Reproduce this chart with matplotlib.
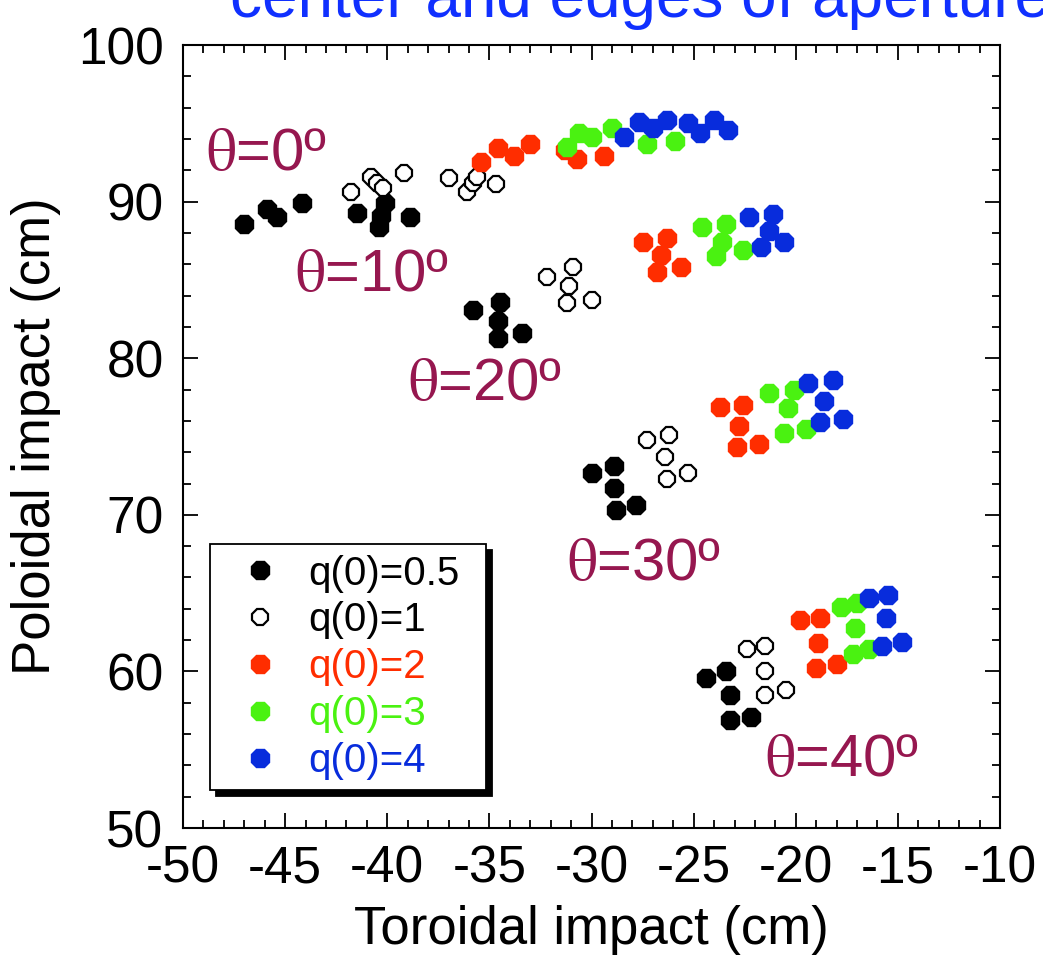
import matplotlib.pyplot as plt
from matplotlib.ticker import MultipleLocator

# impact points (toroidal x, poloidal y, cm)
q05_x = [-47.0, -45.9, -45.4, -44.2, -41.5, -40.1, -40.3, -40.4, -38.9,
         -35.8, -34.5, -34.6, -34.6, -33.4,
         -30.0, -28.9, -28.9, -28.8, -27.8,
         -24.4, -23.4, -23.2, -23.2, -22.2]
q05_y = [88.6, 89.5, 89.0, 89.9, 89.3, 89.9, 89.1, 88.4, 89.0,
         83.1, 83.6, 82.4, 81.3, 81.6,
         72.7, 73.1, 71.7, 70.3, 70.6,
         59.6, 60.0, 58.5, 56.9, 57.1]

q1_x = [-41.8, -40.8, -40.5, -40.2, -39.2, -37.0, -36.1, -35.8, -35.6, -34.7,
        -32.2, -30.9, -31.1, -31.2, -30.0,
        -27.3, -26.2, -26.4, -26.3, -25.3,
        -22.4, -21.5, -21.5, -21.5, -20.5]
q1_y = [90.6, 91.6, 91.2, 90.9, 91.8, 91.5, 90.6, 91.2, 91.6, 91.1,
        85.2, 85.8, 84.6, 83.5, 83.7,
        74.8, 75.1, 73.7, 72.3, 72.7,
        61.4, 61.6, 60.0, 58.5, 58.8]

q2_x = [-35.4, -34.6, -33.8, -33.0, -31.3, -30.7, -29.4,
        -27.5, -26.3, -26.6, -26.8, -25.6,
        -23.7, -22.6, -22.8, -22.9, -21.8,
        -19.8, -18.8, -18.9, -19.0, -18.0]
q2_y = [92.5, 93.4, 92.9, 93.7, 93.3, 92.7, 92.9,
        87.4, 87.7, 86.6, 85.5, 85.8,
        76.9, 77.0, 75.7, 74.3, 74.5,
        63.3, 63.4, 61.8, 60.2, 60.5]

q3_x = [-31.2, -30.6, -30.0, -29.0, -27.3, -25.9,
        -24.6, -23.4, -23.6, -23.9, -22.6,
        -21.3, -20.1, -20.4, -20.6, -19.5,
        -17.8, -17.0, -17.1, -17.2, -16.4]
q3_y = [93.5, 94.4, 94.1, 94.7, 93.7, 93.9,
        88.4, 88.6, 87.4, 86.5, 86.9,
        77.8, 78.0, 76.8, 75.2, 75.5,
        64.1, 64.4, 62.8, 61.1, 61.4]

q4_x = [-28.4, -27.7, -27.0, -26.3, -25.3, -24.7, -24.0, -23.3,
        -22.3, -21.1, -21.3, -21.7, -20.6,
        -19.4, -18.2, -18.6, -18.8, -17.7,
        -16.4, -15.5, -15.6, -15.8, -14.8]
q4_y = [94.1, 95.1, 94.7, 95.2, 95.0, 94.4, 95.2, 94.6,
        89.0, 89.2, 88.1, 87.1, 87.4,
        78.4, 78.6, 77.3, 75.9, 76.1,
        64.7, 64.9, 63.4, 61.6, 61.9]

labels = ["q(0)=0.5", "q(0)=1", "q(0)=2", "q(0)=3", "q(0)=4"]
angle_labels = ["0", "10", "20", "30", "40"]
angle_x = [-48.9, -44.5, -39.0, -31.2, -21.5]
angle_y = [93.0, 85.3, 78.3, 66.8, 54.3]

red = "#ff2d00"
green = "#4af211"
blue = "#082cdc"
maroon = "#96174f"

plt.rcParams['font.family'] = ['Liberation Sans', 'DejaVu Sans']
plt.rcParams['mathtext.fontset'] = 'stix'
plt.rcParams['axes.unicode_minus'] = False

fig = plt.figure(figsize=(10.43, 9.68), dpi=100)
ax = fig.add_axes([0.1755, 0.1446, 0.7833, 0.8089])

ms = 14.5
ax.plot(q05_x, q05_y, '8', ms=ms, mfc='k', mec='k', mew=1, ls='none', label=labels[0])
ax.plot(q1_x, q1_y, '8', ms=ms - 1.5, mfc='white', mec='k', mew=1.6, ls='none', label=labels[1])
ax.plot(q2_x, q2_y, '8', ms=ms, mfc=red, mec=red, mew=1, ls='none', label=labels[2])
ax.plot(q3_x, q3_y, '8', ms=ms, mfc=green, mec=green, mew=1, ls='none', label=labels[3])
ax.plot(q4_x, q4_y, '8', ms=ms, mfc=blue, mec=blue, mew=1, ls='none', label=labels[4])

# theta labels (upright serif theta like the original)
for a, tx, ty in zip(angle_labels, angle_x, angle_y):
    ax.text(tx, ty, r"$\mathrm{θ}$=" + a + "º", color=maroon, fontsize=43,
            ha='left', va='center')

ax.set_xlim(-50, -10)
ax.set_ylim(50, 100)
ax.xaxis.set_major_locator(MultipleLocator(5))
ax.xaxis.set_minor_locator(MultipleLocator(1))
ax.yaxis.set_major_locator(MultipleLocator(10))
ax.yaxis.set_minor_locator(MultipleLocator(2))
ax.tick_params(which='both', direction='in', top=True, right=True, width=1.3)
ax.tick_params(which='major', length=11, labelsize=37)
ax.tick_params(axis='x', which='major', pad=12)
ax.tick_params(axis='y', which='major', pad=14)
ax.tick_params(which='minor', length=6)
for s in ax.spines.values():
    s.set_linewidth(1.5)

ax.set_xlabel("Toroidal impact (cm)", fontsize=38, labelpad=8)
ax.set_ylabel("Poloidal impact (cm)", fontsize=38, labelpad=12)

leg = ax.legend(loc='lower left', bbox_to_anchor=(0.033, 0.0485, 0.338, 0.3575),
                mode='expand', fontsize=29, numpoints=1, handlelength=2.0,
                handletextpad=0.2, borderpad=0.25, labelspacing=0.22,
                borderaxespad=0, fancybox=False, framealpha=1,
                edgecolor='k', markerscale=0.95,
                shadow={'ox': 4, 'oy': -4, 'color': 'k', 'alpha': 1})
leg.get_frame().set_linewidth(1.3)
for t, c in zip(leg.get_texts(), ['k', 'k', red, green, blue]):
    t.set_color(c)

# title, cut off at the top of the picture
fig.text(230 / 1043, 1 - 17 / 968, "center and edges of aperture",
         color="#1030ff", fontsize=46, ha='left', va='baseline')

fig.savefig("out.png", dpi=100)
